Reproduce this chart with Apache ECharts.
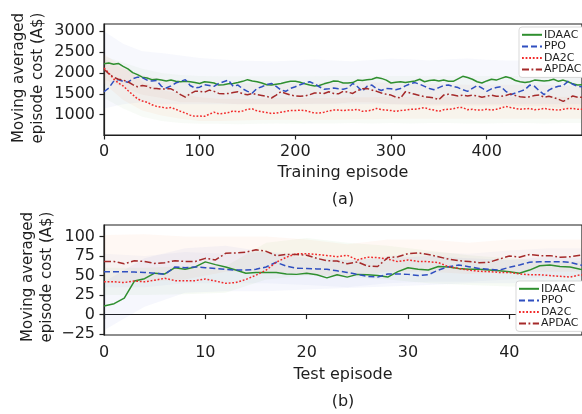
<!DOCTYPE html>
<html><head><meta charset="utf-8">
<script src="https://cdn.jsdelivr.net/npm/echarts@6/dist/echarts.min.js"></script>
<style>html,body{margin:0;padding:0;background:#fff}#c{width:582px;height:414px}</style>
</head><body><div id="c"></div>
<script>
// ---------- (a) training: moving averaged cost, sampled every 5 episodes (0..500) ----------
const trainStep = 5;
const trainIdaac = [2220,2240,2210,2230,2160,2100,2010,1960,1900,1880,
 1840,1850,1830,1810,1830,1800,1790,1800,1790,1770,
 1750,1790,1780,1760,1710,1720,1740,1750,1770,1800,
 1840,1810,1790,1760,1720,1710,1730,1750,1780,1800,
 1800,1780,1740,1710,1690,1700,1740,1770,1810,1800,
 1760,1760,1770,1830,1820,1840,1850,1890,1870,1830,
 1760,1780,1790,1770,1790,1810,1850,1790,1820,1830,
 1810,1830,1800,1800,1860,1920,1890,1850,1790,1760,
 1810,1850,1830,1870,1910,1880,1820,1790,1770,1790,
 1830,1820,1810,1820,1850,1800,1830,1790,1740,1710,1720];
const trainPpo = [1550,1640,1800,1840,1800,1780,1860,1900,1890,1830,
 1810,1820,1680,1640,1690,1760,1800,1840,1700,1640,
 1660,1720,1700,1680,1750,1790,1830,1680,1710,1620,
 1560,1520,1630,1670,1720,1750,1680,1590,1560,1630,
 1670,1720,1760,1790,1740,1670,1610,1620,1640,1620,
 1610,1640,1750,1670,1560,1680,1710,1620,1580,1630,
 1620,1600,1630,1690,1740,1770,1730,1680,1630,1600,
 1650,1700,1710,1680,1650,1600,1560,1630,1700,1640,
 1560,1620,1650,1670,1560,1480,1520,1560,1600,1710,
 1680,1570,1480,1590,1650,1680,1700,1800,1730,1680,1670];
const trainDa2c = [2120,2000,1860,1760,1690,1580,1480,1380,1330,1300,
 1240,1200,1180,1160,1170,1130,1080,1040,990,960,
 970,960,1010,1060,1020,1030,1050,1090,1070,1090,
 1130,1140,1090,1070,1050,1030,1040,1060,1080,1100,
 1100,1110,1100,1070,1040,1040,1060,1090,1110,1110,
 1100,1110,1110,1130,1080,1090,1110,1150,1120,1110,
 1100,1080,1100,1110,1130,1130,1150,1170,1130,1110,
 1080,1120,1130,1140,1170,1170,1120,1130,1110,1110,
 1130,1110,1130,1160,1200,1170,1150,1130,1140,1150,
 1120,1130,1150,1130,1120,1110,1130,1150,1150,1130,1130];
const trainApdac = [2090,1980,1900,1850,1830,1790,1720,1670,1700,1680,
 1630,1630,1610,1620,1620,1560,1480,1420,1500,1560,
 1560,1540,1590,1560,1510,1500,1510,1530,1550,1500,
 1480,1510,1480,1460,1440,1400,1470,1550,1510,1470,
 1450,1440,1450,1480,1520,1520,1510,1550,1510,1500,
 1560,1540,1510,1580,1620,1630,1590,1560,1520,1490,
 1470,1420,1400,1550,1520,1490,1460,1430,1420,1400,
 1360,1470,1490,1470,1450,1470,1450,1470,1450,1420,
 1440,1470,1440,1440,1460,1500,1460,1430,1420,1430,
 1460,1470,1420,1440,1410,1370,1320,1380,1450,1420,1420];

// shaded bands for (a), every 20 episodes
const trainBandX = [0,20,40,60,80,100,120,140,160,180,200,220,240,260,280,300,320,340,360,380,400,420,440,460,480,500];
const trainBandPpoHi = [3000,2700,2520,2480,2420,2360,2330,2300,2290,2280,2300,2330,2300,2280,2310,2340,2330,2300,2330,2350,2320,2300,2300,2320,2300,2300];
const trainBandPpoLo = [1150,1250,1300,1250,1250,1250,1250,1250,1250,1250,1250,1250,1250,1250,1250,1250,1250,1250,1250,1250,1250,1250,1250,1250,1250,1250];
const trainBandIdaacHi = [2400,2250,2100,2000,1950,1930,1920,1920,1920,1920,1920,1920,1930,1930,1930,1930,1930,1930,1930,1930,1930,1930,1930,1930,1930,1930];
const trainBandIdaacLo = [1400,1150,950,850,800,780,780,770,780,790,780,790,790,800,790,800,790,800,800,790,790,800,800,790,800,800];
const trainBandDa2cHi = [2450,2150,1800,1600,1500,1420,1380,1380,1380,1400,1400,1400,1400,1420,1420,1430,1430,1430,1430,1430,1430,1430,1430,1430,1430,1430];
const trainBandDa2cLo = [1750,1350,1100,980,900,850,850,860,870,880,880,880,880,890,890,900,900,900,900,900,900,900,900,900,900,900];
const trainBandApdacHi = [2350,2100,1950,1850,1800,1780,1750,1750,1750,1750,1750,1760,1760,1780,1780,1760,1740,1730,1730,1720,1720,1720,1720,1720,1700,1700];
const trainBandApdacLo = [1850,1650,1480,1400,1300,1300,1280,1250,1250,1250,1250,1260,1260,1300,1300,1250,1230,1220,1220,1220,1220,1220,1200,1200,1150,1150];

// ---------- (b) test: moving averaged cost per episode (0..48) ----------
const testIdaac = [11,14,21,43,46,53,52,60,58,61,67.5,64,61,57,53,54,54,54,52,51.5,53,51,47,51,48,51.5,51,50,48,55,60,58,57,61.5,61,59,58,58,57,56,55,53,57,62.5,63.5,61.5,61,58,56];
const testPpo = [55,55,55,54.5,54,53,51.5,61,60,61,60,59,58,57,57,58,61,67,62,59.5,59,58.5,58,56,54,51.5,49,48,52,52,51.5,50,51,57,61.4,63.5,61.4,59,58,57,60.5,63.5,67,67.8,67.8,67.8,67,63.5,61];
const testDa2c = [42,42,41,43,42,44,46.5,43.5,43.5,43.5,45.5,43,40,41,45,50.5,57,67,73.5,78,78,77,75.6,74.2,76,70,73.5,73,71,67.8,70,68,67.8,66.5,61.4,59,57,55.5,55,54,54,52,51,51,50,49,48,51,50];
const testApdac = [68,68,65,69,68,65.5,66.5,69,68,68,72,70,78.5,79,80,83,81,75.5,77,77,76,72,69,68.5,65,67.5,62,61.5,73,74,78,79,77,74,71,69,68,66.5,67,71,75,73.5,77,75.5,75.5,73.5,74,76,75];

// shaded bands for (b), every 4 episodes
const testBandX = [0,4,8,12,16,20,24,28,32,36,40,44,48];
const testBandIdaacLo = [-20,10,28,30,30,32,34,36,38,40,40,42,42];
const testBandIdaacHi = [42,72,85,88,80,72,70,72,75,72,70,74,72];
const testBandApdacLo = [40,42,45,55,55,52,48,55,55,52,55,55,55];
const testBandApdacHi = [102,103,100,100,100,96,90,96,96,92,96,96,96];
const testBandDa2cLo = [25,25,26,28,45,50,48,45,40,38,36,35,35];
const testBandDa2cHi = [60,60,62,62,92,98,92,88,82,76,72,68,68];
const testBandPpoLo = [35,35,40,40,40,38,35,40,42,42,45,48,48];
const testBandPpoHi = [78,75,80,78,80,78,70,75,80,78,82,85,85];

// tick labels
const trainXTicks = [0,100,200,300,400];
const trainYTicks = [1000,1500,2000,2500,3000];
const testXTicks = [0,10,20,30,40];
const testYTicks = [-25,0,25,50,75,100];
const names = ['IDAAC','PPO','DA2C','APDAC'];

// ---------- styles ----------
const FONT = 'DejaVu Sans';
const INK = '#1e1e1e';
const colors = {IDAAC:'#2f8f2f', PPO:'#2f4fc0', DA2C:'#f22a2a', APDAC:'#a52a2a'};
const dashes = {IDAAC:'solid', PPO:[6,3], DA2C:[1.8,1.8], APDAC:[7,2.5,1.8,2.5]};
const fmt = v => v < 0 ? '\u2212' + Math.abs(v) : String(v);

function lineSeries(idx, name, xs, ys){
  return {type:'line', name, xAxisIndex:idx, yAxisIndex:idx, symbol:'none', showSymbol:false,
    data: ys.map((v,i)=>[xs[i], v]), z:5, clip:true,
    lineStyle:{color:colors[name], width:1.5, type:dashes[name]},
    itemStyle:{color:colors[name]}};
}
function band(idx, xs, lo, hi, fill){
  return {type:'custom', xAxisIndex:idx, yAxisIndex:idx, clip:true, silent:true, z:1,
    data: xs.map((x,i)=>[x, lo[i], hi[i]]), encode:{x:0, y:[1,2]},
    renderItem(params, api){
      if (params.dataIndex !== 0) return null;
      const pts = [];
      for (let i=0;i<xs.length;i++) pts.push(api.coord([xs[i], hi[i]]));
      for (let i=xs.length-1;i>=0;i--) pts.push(api.coord([xs[i], lo[i]]));
      return {type:'polygon', shape:{points:pts}, style:{fill}};
    }};
}
function axisCommon(ticks, margin){
  return {
    axisLine:{show:true, lineStyle:{color:INK, width:1.2}},
    axisTick:{show:true, inside:false, length:4.5, customValues:ticks, lineStyle:{color:INK, width:1.2}},
    axisLabel:{customValues:ticks, formatter:fmt, fontFamily:FONT, fontSize:16, color:INK, margin},
    splitLine:{show:false}
  };
}

const trainX = trainIdaac.map((_,i)=>i*trainStep);
const testX = testIdaac.map((_,i)=>i);

const legendCommon = {orient:'vertical', itemWidth:20, itemHeight:11.6, itemGap:0,
  data:names, backgroundColor:'#fff', borderColor:'#cfcfcf', borderWidth:0.8, borderRadius:3,
  padding:[2,6,2,2], selectedMode:false,
  itemStyle:{opacity:0, borderWidth:0},
  textStyle:{fontFamily:FONT, fontSize:11, color:INK, lineHeight:11.6, padding:[0,0,0,-3]}};

const option = {
  animation:false,
  backgroundColor:'#fff',
  grid:[
    {left:104, top:24, right:-2, height:111, show:true, borderColor:INK, borderWidth:1.2, backgroundColor:'transparent'},
    {left:104, top:225, right:-2, height:110, show:true, borderColor:INK, borderWidth:1.2, backgroundColor:'transparent'}
  ],
  xAxis:[
    Object.assign({type:'value', gridIndex:0, min:0, max:499.6}, axisCommon(trainXTicks, 9)),
    Object.assign({type:'value', gridIndex:1, min:0, max:47.17}, axisCommon(testXTicks, 10))
  ],
  yAxis:[
    Object.assign({type:'value', gridIndex:0, min:513, max:3175}, axisCommon(trainYTicks, 9)),
    Object.assign({type:'value', gridIndex:1, min:-26.1, max:114.7}, axisCommon(testYTicks, 9))
  ],
  legend:[
    Object.assign({left:519, top:27}, legendCommon),
    Object.assign({left:516, top:281}, legendCommon)
  ],
  series:[
    band(0, trainBandX, trainBandPpoLo, trainBandPpoHi, 'rgba(70,90,210,0.045)'),
    band(0, trainBandX, trainBandIdaacLo, trainBandIdaacHi, 'rgba(120,180,90,0.05)'),
    band(0, trainBandX, trainBandDa2cLo, trainBandDa2cHi, 'rgba(255,130,60,0.06)'),
    band(0, trainBandX, trainBandApdacLo, trainBandApdacHi, 'rgba(200,80,60,0.04)'),
    lineSeries(0, 'IDAAC', trainX, trainIdaac),
    lineSeries(0, 'PPO', trainX, trainPpo),
    lineSeries(0, 'DA2C', trainX, trainDa2c),
    lineSeries(0, 'APDAC', trainX, trainApdac),
    band(1, testBandX, testBandIdaacLo, testBandIdaacHi, 'rgba(70,90,210,0.05)'),
    band(1, testBandX, testBandApdacLo, testBandApdacHi, 'rgba(255,130,60,0.06)'),
    band(1, testBandX, testBandDa2cLo, testBandDa2cHi, 'rgba(120,180,90,0.06)'),
    band(1, testBandX, testBandPpoLo, testBandPpoHi, 'rgba(70,90,210,0.035)'),
    lineSeries(1, 'IDAAC', testX, testIdaac),
    lineSeries(1, 'PPO', testX, testPpo),
    lineSeries(1, 'DA2C', testX, testDa2c),
    lineSeries(1, 'APDAC', testX, testApdac)
  ],
  graphic:[
    {type:'text', x:28.8, y:78, rotation:Math.PI/2, style:{text:'Moving averaged\nepisode cost (A$)', font:'15px "DejaVu Sans"', fill:INK, align:'center', verticalAlign:'middle', lineHeight:19}},
    {type:'text', x:37.9, y:277, rotation:Math.PI/2, style:{text:'Moving averaged\nepisode cost (A$)', font:'15px "DejaVu Sans"', fill:INK, align:'center', verticalAlign:'middle', lineHeight:19}},
    {type:'text', x:343, y:173, style:{text:'Training episode', font:'16px "DejaVu Sans"', fill:INK, align:'center', verticalAlign:'middle'}},
    {type:'text', x:343, y:200, style:{text:'(a)', font:'16px "DejaVu Sans"', fill:INK, align:'center', verticalAlign:'middle'}},
    {type:'text', x:343, y:375, style:{text:'Test episode', font:'16px "DejaVu Sans"', fill:INK, align:'center', verticalAlign:'middle'}},
    {type:'text', x:343, y:402, style:{text:'(b)', font:'16px "DejaVu Sans"', fill:INK, align:'center', verticalAlign:'middle'}}
  ]
};
const chart = echarts.init(document.getElementById('c'), null, {renderer:'canvas'});
chart.setOption(option);
</script></body></html>
